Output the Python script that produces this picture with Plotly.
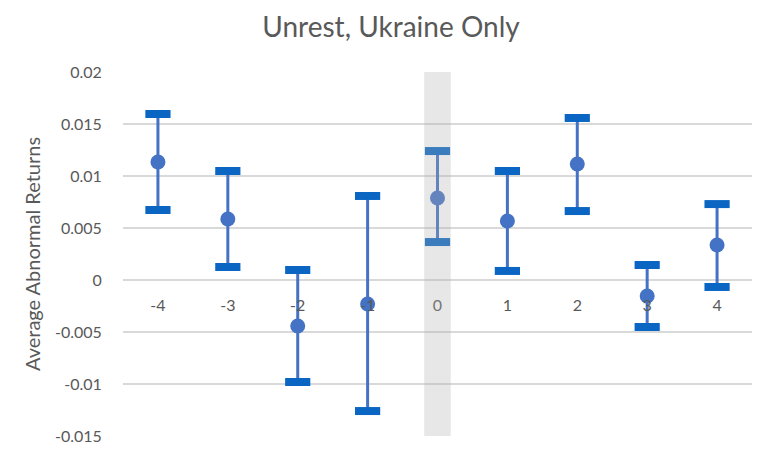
import plotly.graph_objects as go

categories = ["-4", "-3", "-2", "-1", "0", "1", "2", "3", "4"]
mean_ar = [0.01135, 0.00587, -0.00442, -0.00231, 0.00788, 0.00567, 0.01115, -0.00154, 0.00337]
upper_ci = [0.01596, 0.01048, 0.00096, 0.00808, 0.01240, 0.01048, 0.01558, 0.00144, 0.00730]
lower_ci = [0.00673, 0.00125, -0.00981, -0.01260, 0.00365, 0.00087, 0.00663, -0.00452, -0.00067]
y_ticks = [0.02, 0.015, 0.01, 0.005, 0, -0.005, -0.01, -0.015]
y_tick_text = ["0.02", "0.015", "0.01", "0.005", "0", "-0.005", "-0.01", "-0.015"]
event_day = "0"

POINT = "#4472C4"
CAP = "#0A66C2"
GREY = "#595959"

err_plus = [u - m for u, m in zip(upper_ci, mean_ar)]
err_minus = [m - l for m, l in zip(mean_ar, lower_ci)]

fig = go.Figure()

fig.add_trace(go.Scatter(
    x=categories, y=mean_ar, mode="markers",
    marker=dict(size=15, color=POINT),
    error_y=dict(type="data", symmetric=False, array=err_plus, arrayminus=err_minus,
                 color=POINT, thickness=3, width=0),
    showlegend=False,
))
for vals in (upper_ci, lower_ci):
    fig.add_trace(go.Scatter(
        x=categories, y=vals, mode="markers",
        marker=dict(symbol="line-ew", size=18, line=dict(width=8, color=CAP)),
        showlegend=False,
    ))

ymin, ymax = -0.015, 0.02
fig.add_shape(type="rect", xref="x", yref="y", layer="above",
              x0=categories.index(event_day) - 0.19, x1=categories.index(event_day) + 0.19,
              y0=ymin, y1=ymax + 0.0002,
              fillcolor="rgba(175,175,175,0.3)", line=dict(width=0))

W, H = 764, 446
fig.update_layout(
    width=W, height=H,
    margin=dict(l=115, r=20, t=64, b=18),
    paper_bgcolor="white", plot_bgcolor="white",
    font=dict(family="Lato, Open Sans, sans-serif", color=GREY, size=16),
    title=dict(text="Unrest, Ukraine Only", x=383 / W, xref="container", xanchor="center",
               y=1 - 19 / H, yref="container", yanchor="middle",
               font=dict(size=28, color=GREY)),
)
fig.update_xaxes(
    type="category", categoryorder="array", categoryarray=categories,
    range=[-0.5, 8.5], showgrid=False, showline=False, zeroline=False,
    anchor="free", position=(0 - ymin) / (ymax - ymin), automargin=False,
    ticks="outside", ticklen=11, tickcolor="rgba(0,0,0,0)",
    tickfont=dict(size=16, color=GREY),
)
fig.update_yaxes(
    range=[ymin, ymax], tickvals=y_ticks, ticktext=y_tick_text, automargin=False,
    showgrid=True, gridcolor="#D9D9D9", gridwidth=1.5,
    zeroline=True, zerolinecolor="#D9D9D9", zerolinewidth=1.5,
    showline=False, ticks="outside", ticklen=17, tickcolor="rgba(0,0,0,0)",
    tickfont=dict(size=16, color=GREY),
    title=dict(text="Average Abnormal Returns", font=dict(size=20, color=GREY), standoff=8),
)

fig.write_html("out.html")
